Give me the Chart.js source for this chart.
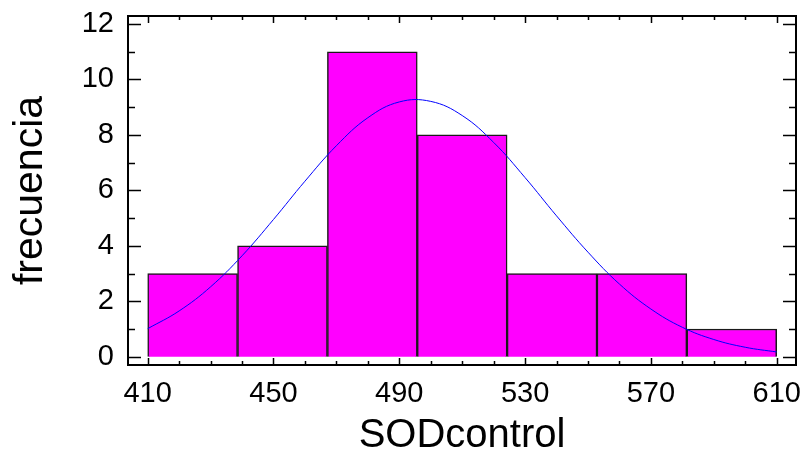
<!DOCTYPE html>
<html>
<head>
<meta charset="utf-8">
<script src="https://cdn.jsdelivr.net/npm/chart.js@4"></script>
<style>
  html, body { margin: 0; padding: 0; background: #ffffff; }
  #contenedor { width: 804px; height: 456px; }
</style>
</head>
<body>
<div id="contenedor"><canvas id="histograma" width="804" height="456"></canvas></div>
<script>
// marcas de clase (centro de cada intervalo) y frecuencias observadas
const centrosClase = [424.29, 452.86, 481.43, 510, 538.57, 567.14, 595.71];
const frecuencias = [3, 4, 11, 8, 3, 3, 1];

// curva normal ajustada, leida punto a punto
const curvaX = [410, 420, 430, 440, 450, 460, 470, 480, 490, 500, 510,
  520, 530, 540, 550, 560, 570, 580, 590, 600, 610];
const curvaY = [1.01, 1.65, 2.52, 3.64, 4.95, 6.33, 7.61, 8.62, 9.19, 9.21, 8.70,
  7.73, 6.46, 5.08, 3.77, 2.62, 1.72, 1.06, 0.62, 0.34, 0.17];

// etiquetas y marcas de los ejes
const ticksX = [410, 450, 490, 530, 570, 610];
const ticksXMenores = [420, 430, 440, 460, 470, 480, 500, 510, 520,
  540, 550, 560, 580, 590, 600];
const ticksY = [0, 2, 4, 6, 8, 10, 12];
const ticksYMenores = [1, 3, 5, 7, 9, 11];

const fuente = "'Liberation Sans', Arial, sans-serif";

// marco completo con marcas hacia dentro en los cuatro lados
const marcoConTicks = {
  id: "marcoConTicks",
  afterDatasetsDraw(chart) {
    const ctx = chart.ctx;
    const area = chart.chartArea;
    const x = chart.scales.x;
    const y = chart.scales.y;

    ctx.save();
    ctx.strokeStyle = "#000000";
    ctx.lineWidth = 1.5;
    ctx.beginPath();

    function marcaX(valor, largo) {
      const px = Math.round(x.getPixelForValue(valor)) + 0.5;
      ctx.moveTo(px, area.top);
      ctx.lineTo(px, area.top + largo);
      ctx.moveTo(px, area.bottom);
      ctx.lineTo(px, area.bottom - largo);
    }

    function marcaY(valor, largo) {
      const py = Math.round(y.getPixelForValue(valor)) + 0.5;
      ctx.moveTo(area.left, py);
      ctx.lineTo(area.left + largo, py);
      ctx.moveTo(area.right, py);
      ctx.lineTo(area.right - largo, py);
    }

    ticksX.forEach((v) => marcaX(v, 7));
    ticksXMenores.forEach((v) => marcaX(v, 4));
    ticksY.forEach((v) => marcaY(v, 13));
    ticksYMenores.forEach((v) => marcaY(v, 7));
    ctx.stroke();

    ctx.lineWidth = 2;
    ctx.strokeRect(area.left, area.top, area.right - area.left, area.bottom - area.top);
    ctx.restore();
  },
};

const datosBarras = centrosClase.map((c, i) => ({ x: c, y: frecuencias[i] }));
const datosCurva = curvaX.map((c, i) => ({ x: c, y: curvaY[i] }));

const config = {
  type: "bar",
  data: {
    datasets: [
      {
        type: "line",
        label: "Normal",
        data: datosCurva,
        borderColor: "#0000ff",
        borderWidth: 1,
        pointRadius: 0,
        tension: 0.4,
        fill: false,
        order: 0,
      },
      {
        type: "bar",
        label: "SODcontrol",
        data: datosBarras,
        backgroundColor: "#ff00ff",
        borderColor: "#1a1a1a",
        borderWidth: 1.5,
        barPercentage: 1,
        categoryPercentage: 1,
        order: 1,
      },
    ],
  },
  options: {
    responsive: false,
    animation: false,
    layout: {
      padding: { top: 16, right: 8, left: 0, bottom: 0 },
    },
    plugins: {
      legend: { display: false },
      tooltip: { enabled: false },
    },
    scales: {
      x: {
        type: "linear",
        offset: false,
        min: 403.74,
        max: 616.14,
        afterBuildTicks: (eje) => {
          eje.ticks = ticksX.map((v) => ({ value: v }));
        },
        afterFit: (eje) => {
          eje.height = 91;
          eje.paddingLeft = 0;
          eje.paddingRight = 0;
        },
        grid: { display: false, drawTicks: false },
        border: { display: false },
        ticks: {
          padding: 12,
          color: "#000000",
          font: { family: fuente, size: 29 },
          maxRotation: 0,
        },
        title: {
          display: true,
          text: "SODcontrol",
          color: "#000000",
          padding: 0,
          font: { family: fuente, size: 40, lineHeight: 1 },
        },
      },
      y: {
        min: -0.3,
        max: 12.29,
        afterBuildTicks: (eje) => {
          eje.ticks = ticksY.map((v) => ({ value: v }));
        },
        afterFit: (eje) => {
          eje.width = 128;
          eje.paddingTop = 0;
          eje.paddingBottom = 0;
        },
        grid: { display: false, drawTicks: false },
        border: { display: false },
        ticks: {
          padding: 14,
          color: "#000000",
          font: { family: fuente, size: 29 },
        },
        title: {
          display: true,
          text: "frecuencia",
          color: "#000000",
          padding: { top: 10, bottom: 0 },
          font: { family: fuente, size: 41, lineHeight: 1 },
        },
      },
    },
  },
  plugins: [marcoConTicks],
};

new Chart(document.getElementById("histograma"), config);
</script>
</body>
</html>
